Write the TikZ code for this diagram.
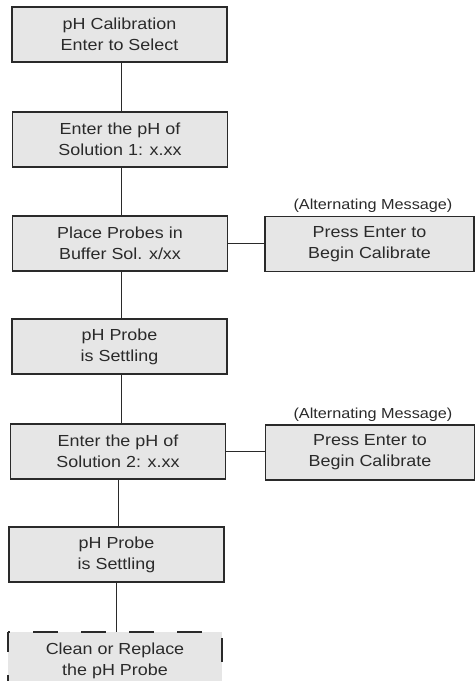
\documentclass[tikz,border=0pt]{standalone}
\usepackage{fontspec}
\setmainfont[FakeStretch=1.12]{Liberation Sans}
\definecolor{boxfill}{HTML}{E6E6E6}
\definecolor{ink}{HTML}{2A2A2A}
\begin{document}
\begin{tikzpicture}[x=1pt,y=-1pt,
  stepbox/.style={draw=ink, line width=1.1pt, fill=boxfill, minimum width=215pt, minimum height=55pt,
    inner sep=0pt, align=center, font=\fontsize{16}{21}\selectfont, text=ink},
  altbox/.style={stepbox, minimum width=209pt},
  note/.style={font=\fontsize{14.5}{17}\selectfont, text=ink, inner sep=0pt},
  link/.style={draw=ink, line width=1pt},
  brokenedge/.style={draw=ink, line width=1.1pt}]
\useasboundingbox (0,0) rectangle (475,681);
\node[stepbox] (b1) at (119.5,34.5) {pH Calibration\\Enter to Select};
\node[stepbox] (b2) at (120,139.5) {Enter the pH of\\Solution 1: x.xx};
\node[stepbox] (b3) at (120,243.5) {Place Probes in\\Buffer Sol. x/xx};
\node[stepbox] (b4) at (119.5,346.5) {pH Probe\\is Settling};
\node[stepbox] (b5) at (118,451.5) {Enter the pH of\\Solution 2: x.xx};
\node[stepbox] (b6) at (116.5,554.5) {pH Probe\\is Settling};
\node[altbox] (r1) at (369.5,244) {Press Enter to\\Begin Calibrate};
\node[altbox] (r2) at (370,452.5) {Press Enter to\\Begin Calibrate};
\node[note] (n1) at (373,206) {(Alternating Message)};
\node[note] (n2) at (373,415) {(Alternating Message)};
% last, cut-off box
\fill[boxfill] (8,632) rectangle (222,690);
\coordinate (b7) at (115,632);
\node[font=\fontsize{16}{20.5}\selectfont, text=ink, align=center, inner sep=0pt] (b7t) at (115,661) {Clean or Replace\\the pH Probe};
\draw[brokenedge, dash pattern=on 25pt off 23pt, dash phase=23pt] (8,632) -- (222,632);
\draw[brokenedge, dash pattern=on 20pt off 23pt] (8,632) -- (8,682);
\draw[brokenedge, dash pattern=on 0pt off 6pt on 24pt off 30pt] (222,632) -- (222,682);
% connectors
\draw[link] ([xshift=1.5pt]b1.south) -- ([xshift=1.5pt]b1.south |- b2.north);
\draw[link] ([xshift=1.5pt]b2.south) -- ([xshift=1.5pt]b2.south |- b3.north);
\draw[link] ([xshift=1.5pt]b3.south) -- ([xshift=1.5pt]b3.south |- b4.north);
\draw[link] ([xshift=1.5pt]b4.south) -- ([xshift=1.5pt]b4.south |- b5.north);
\draw[link] (b5.south) -- (b5.south |- b6.north);
\draw[link] (b6.south) -- (b6.south |- b7);
\draw[link] (b3.east) -- (r1.west |- b3.east);
\draw[link] (b5.east) -- (r2.west |- b5.east);
\end{tikzpicture}
\end{document}
